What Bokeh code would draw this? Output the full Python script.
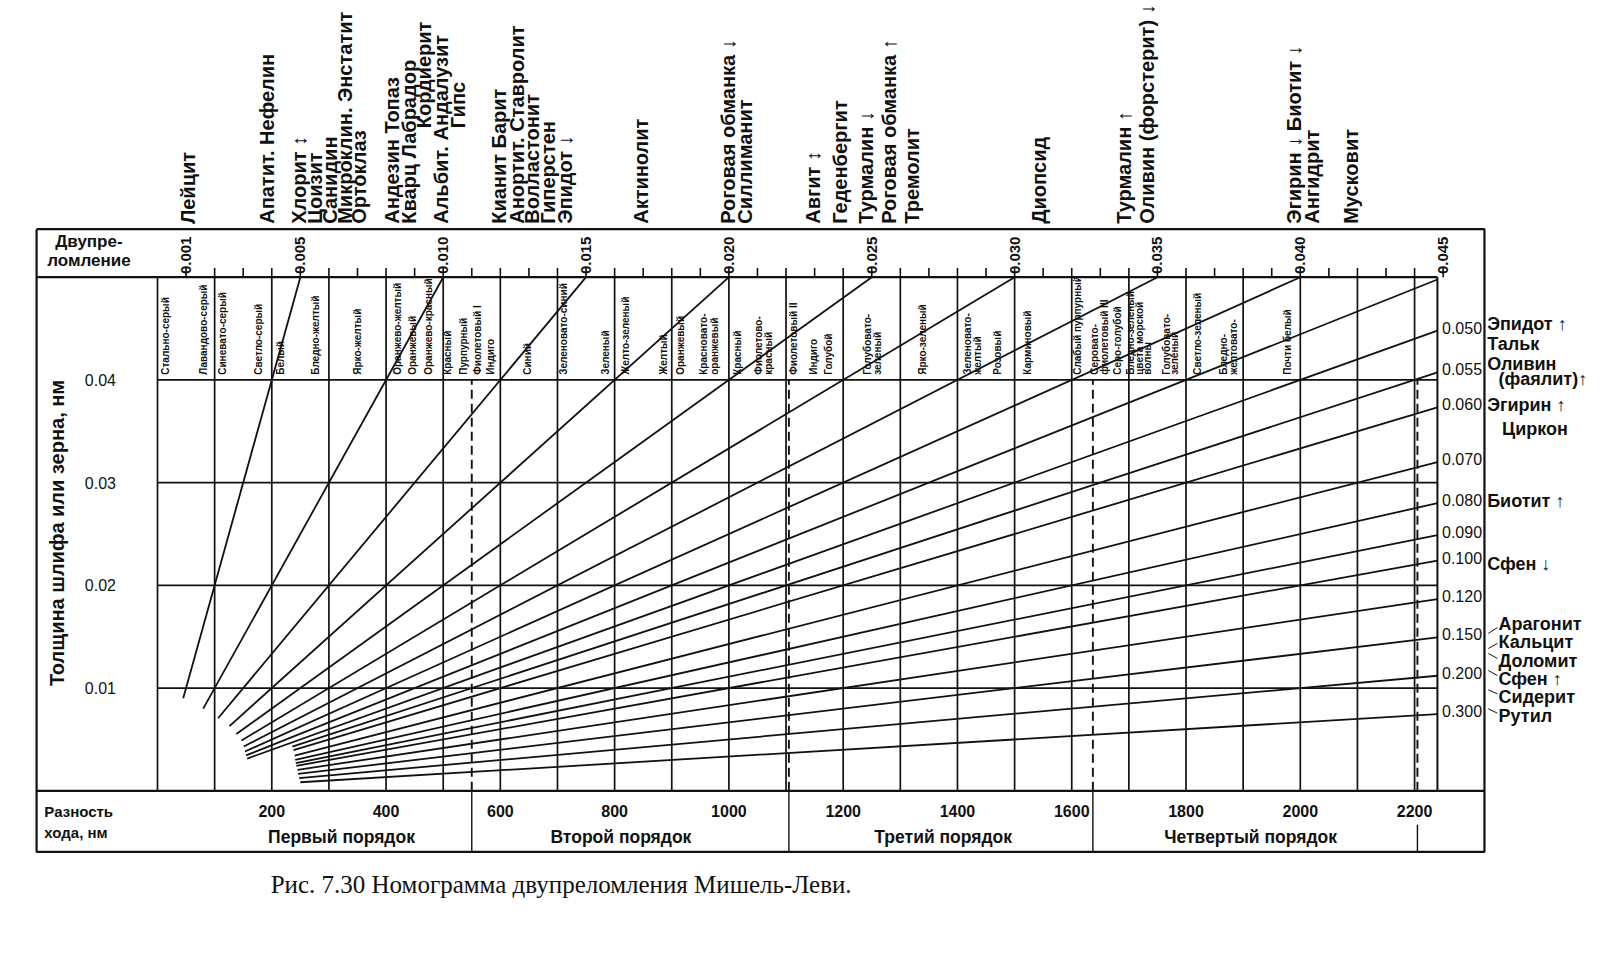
import math
from bokeh.plotting import figure
from bokeh.models import Range1d
from bokeh.core.properties import value
from bokeh.embed import file_html
from bokeh.resources import INLINE

# ---------------- data ----------------
birefringence = [0.005, 0.010, 0.015, 0.020, 0.025, 0.030, 0.035, 0.040, 0.045, 0.050,
                 0.055, 0.060, 0.070, 0.080, 0.090, 0.100, 0.120, 0.150, 0.200, 0.300]
line_start_nm = [45, 80, 106, 126, 138, 147, 151, 153, 155, 157,
                 236, 238, 240, 241, 242, 243, 245, 246, 248, 250]

top_scale_values = [0.001, 0.005, 0.010, 0.015, 0.020, 0.025, 0.030, 0.035, 0.040, 0.045]
top_scale_labels = ["0.001", "0.005", "0.010", "0.015", "0.020", "0.025", "0.030", "0.035", "0.040", "0.045"]
top_minor_ticks = [0.001, 0.002, 0.003, 0.004, 0.005, 0.006, 0.007, 0.008, 0.009, 0.010,
                   0.011, 0.012, 0.013, 0.014, 0.015, 0.016, 0.017, 0.018, 0.019, 0.020,
                   0.021, 0.022, 0.023, 0.024, 0.025, 0.026, 0.027, 0.028, 0.029, 0.030,
                   0.031, 0.032, 0.033, 0.034, 0.035, 0.036, 0.037, 0.038, 0.039, 0.040,
                   0.041, 0.042, 0.043, 0.044, 0.045]

right_scale_values = [0.050, 0.055, 0.060, 0.070, 0.080, 0.090, 0.100, 0.120, 0.150, 0.200, 0.300]
right_scale_labels = ["0.050", "0.055", "0.060", "0.070", "0.080", "0.090", "0.100", "0.120", "0.150", "0.200", "0.300"]

thickness_ticks = [0.01, 0.02, 0.03, 0.04]
thickness_labels = ["0.01", "0.02", "0.03", "0.04"]

retardation_ticks = [200, 400, 600, 800, 1000, 1200, 1400, 1600, 1800, 2000, 2200]
retardation_labels = ["200", "400", "600", "800", "1000", "1200", "1400", "1600", "1800", "2000", "2200"]
grid_retardation = [0, 100, 200, 300, 400, 500, 600, 700, 800, 900, 1000, 1100,
                    1200, 1300, 1400, 1500, 1600, 1700, 1800, 1900, 2000, 2100, 2200]

order_names = ["Первый порядок", "Второй порядок", "Третий порядок", "Четвертый порядок"]
order_label_nm = [322, 811, 1375, 1913]
order_bounds_nm = [550, 1105, 1637, 2205]

top_minerals = ["Лейцит", "Апатит. Нефелин", "Хлорит ↕", "Цоизит", "Санидин",
                "Микроклин. Энстатит", "Ортоклаз", "Андезин  Топаз", "Кварц  Лабрадор",
                "Альбит. Андалузит", "Кианит  Барит", "Анортит. Ставролит", "Волластонит",
                "Гиперстен", "Эпидот ↓", "Актинолит", "Роговая обманка ↓", "Силлиманит",
                "Авгит ↕", "Геденбергит", "Турмалин ↓", "Роговая обманка ↑", "Тремолит",
                "Диопсид", "Турмалин ↑", "Оливин (форстерит) ↓", "Эгирин ↓ Биотит ↓",
                "Ангидрит", "Мусковит"]
top_minerals_nm = [54, 191, 248, 275, 302, 328, 353, 411, 440, 497, 598, 629, 656,
                   683, 714, 847, 999, 1029, 1148, 1195, 1240, 1280, 1320, 1542,
                   1691, 1731, 1989, 2021, 2088]
raised_minerals = ["Кордиерит", "Гипс"]
raised_minerals_nm = [467, 526]

right_minerals = ["Эпидот ↑", "Тальк", "Оливин", "(фаялит)↑", "Эгирин ↑", "Циркон",
                  "Биотит ↑", "Сфен ↓", "Арагонит", "Кальцит", "Доломит", "Сфен ↑",
                  "Сидерит", "Рутил"]
right_minerals_t = [0.04546, 0.04352, 0.04157, 0.04011, 0.03751, 0.03524, 0.02826,
                    0.02210, 0.01626, 0.01447, 0.01268, 0.01090, 0.00910, 0.00732]
right_minerals_nm = [2327, 2327, 2327, 2347, 2327, 2353, 2327, 2327, 2347, 2347,
                     2347, 2347, 2347, 2347]
leader_from_t = [0.01532, 0.01385, 0.01337, 0.01171, 0.00983, 0.00798]
leader_to_t = [0.01590, 0.01435, 0.01288, 0.01122, 0.00944, 0.00756]

color_names = ["Стально-серый", "Лавандово-серый", "Синевато-серый", "Светло-серый", "Белый",
               "Бледно-желтый", "Ярко-желтый", "Оранжево-желтый", "Оранжевый",
               "Оранжево-красный", "Красный", "Пурпурный", "Фиолетовый I", "Индиго",
               "Синий", "Зеленовато-синий", "Зеленый", "Желто-зеленый", "Желтый",
               "Оранжевый", "Красновато-", "оранжевый", "Красный", "Фиолетово-", "красный",
               "Фиолетовый II", "Индиго", "Голубой", "Голубовато-", "зеленый",
               "Ярко-зеленый", "Зеленовато-", "желтый", "Розовый", "Карминовый",
               "Слабый пурпурный", "Серовато-", "фиолетовый III", "Серо-голубой",
               "Бледно-зеленый", "цвета морской", "волны", "Голубовато-", "зеленый",
               "Светло-зеленый", "Бледно-", "желтовато-", "Почти белый"]
color_nm = [14, 81, 113, 177, 215, 276, 350, 420, 446, 475, 507, 536, 560, 583,
            647, 711, 784, 819, 886, 915, 955, 975, 1015, 1052, 1070, 1113, 1148,
            1174, 1242, 1260, 1339, 1417, 1435, 1470, 1522, 1610, 1640, 1657,
            1680, 1703, 1718, 1733, 1765, 1780, 1820, 1866, 1883, 1978]

caption = "Рис. 7.30  Номограмма двупреломления Мишель-Леви."

# ---------------- layout (canvas <-> data mapping) ----------------
W, H = 1600, 954
X0, SX = 157.0, 0.5714        # canvas px of 0 nm, px per nm
Y0, SY = 790.3, 10272.0       # canvas px of 0 mm, px per mm
R_MAX = 2240.0                # right edge of the nomogram (nm)
T_TOP = 0.05                  # top of the colour band (mm)
T_BAND = 0.04
FR_L, FR_R = -211.6, 2322.3   # outer frame (nm)
FR_T, FR_B = 0.05468, -0.00594  # outer frame (mm)

x_range = Range1d((0 - X0) / SX, (W - X0) / SX)
y_range = Range1d((Y0 - H) / SY, (Y0 - 0) / SY)

INK = "#111111"
SANS = "Liberation Sans"
SERIF = "Liberation Serif"
UP = math.pi / 2

p = figure(width=W, height=H, x_range=x_range, y_range=y_range,
           toolbar_location=None, output_backend="svg", min_border=0,
           x_axis_location=None, y_axis_location=None,
           outline_line_color=None, background_fill_color="white",
           border_fill_color="white")
p.grid.visible = False


def txt(xs, ys, texts, size, angle=0.0, align="left", baseline="middle",
        font=SANS, style="bold"):
    p.text(x=xs, y=ys, text=texts, angle=angle, text_align=align,
           text_baseline=baseline, text_font=value(font),
           text_font_size=value(size), text_font_style=style, text_color=INK)


# frame and structural lines
p.multi_line(xs=[[FR_L, FR_R, FR_R, FR_L, FR_L]], ys=[[FR_T, FR_T, FR_B, FR_B, FR_T]],
             line_color=INK, line_width=2.2)
p.multi_line(xs=[[FR_L, R_MAX], [FR_L, FR_R]], ys=[[T_TOP, T_TOP], [0, 0]],
             line_color=INK, line_width=2.2)
p.multi_line(xs=[[R_MAX, R_MAX]], ys=[[0, T_TOP]], line_color=INK, line_width=2.0)

# vertical grid every 100 nm
p.multi_line(xs=[[g, g] for g in grid_retardation],
             ys=[[0, T_TOP] for g in grid_retardation],
             line_color=INK, line_width=1.7)
# horizontal thickness lines
p.multi_line(xs=[[0, R_MAX] for t in thickness_ticks],
             ys=[[t, t] for t in thickness_ticks],
             line_color=INK, line_width=1.7)

# dashed order boundaries
p.multi_line(xs=[[b, b] for b in order_bounds_nm],
             ys=[[0, T_BAND] for b in order_bounds_nm],
             line_color=INK, line_width=1.9, line_dash="9 5")
# separators in the bottom band
p.multi_line(xs=[[b, b] for b in order_bounds_nm[:3]] + [[order_bounds_nm[3], order_bounds_nm[3]]],
             ys=[[0, FR_B] for b in order_bounds_nm[:3]] + [[-0.0033, FR_B]],
             line_color=INK, line_width=1.4)

# birefringence tick marks along the top of the colour band
tick_h = 0.0009
p.multi_line(xs=[[b * 1e6 * T_TOP] * 2 for b in top_minor_ticks],
             ys=[[T_TOP, T_TOP + tick_h] for b in top_minor_ticks],
             line_color=INK, line_width=1.6)

# birefringence lines  (retardation = birefringence * thickness)
lxs, lys = [], []
for b, r0 in zip(birefringence, line_start_nm):
    k = b * 1e6                      # nm per mm
    t_end = min(T_TOP, R_MAX / k)
    lxs.append([r0, k * t_end])
    lys.append([r0 / k, t_end])
p.multi_line(xs=lxs, ys=lys, line_color=INK, line_width=1.8)

# right-end small leaders
p.multi_line(xs=[[2329, 2345] for a in leader_from_t],
             ys=[[a, b] for a, b in zip(leader_from_t, leader_to_t)],
             line_color=INK, line_width=1.0)

# ---------------- texts ----------------
# top birefringence scale
txt([b * 1e6 * T_TOP for b in top_scale_values], [T_TOP + 0.0003] * len(top_scale_values),
    top_scale_labels, "15px", angle=UP, align="left")
# right birefringence scale
txt([R_MAX + 8] * len(right_scale_values),
    [R_MAX / (b * 1e6) + 0.0003 for b in right_scale_values],
    right_scale_labels, "16px", align="left", style="normal")

# minerals at the top
txt(top_minerals_nm, [0.0552] * len(top_minerals), top_minerals, "20px", angle=UP)
txt(raised_minerals_nm, [0.0645] * len(raised_minerals), raised_minerals, "20px", angle=UP)
# minerals on the right
txt(right_minerals_nm, right_minerals_t, right_minerals, "18px")

# interference colours in the band
txt(color_nm, [0.0405] * len(color_nm), color_names, "10px", angle=UP)

# left axis
txt([-100] * len(thickness_ticks), thickness_ticks, thickness_labels, "16px", align="center", style="normal")
txt([-176], [0.0251], ["Толщина шлифа или зерна, нм"], "20px", angle=UP, align="center")
txt([-120, -120], [0.05346, 0.05166], ["Двупре-", "ломление"], "17px", align="center")

# bottom axis
txt(retardation_ticks, [-0.0020] * len(retardation_ticks), retardation_labels, "16px", align="center")
txt(order_label_nm, [-0.0045] * len(order_names), order_names, "17.5px", align="center")
txt([-198, -198], [-0.0020, -0.0041], ["Разность", "хода, нм"], "15px")

# caption
txt([198], [-0.00915], [caption], "25px", font=SERIF, style="normal")

open("out.html", "w").write(file_html(p, INLINE))
